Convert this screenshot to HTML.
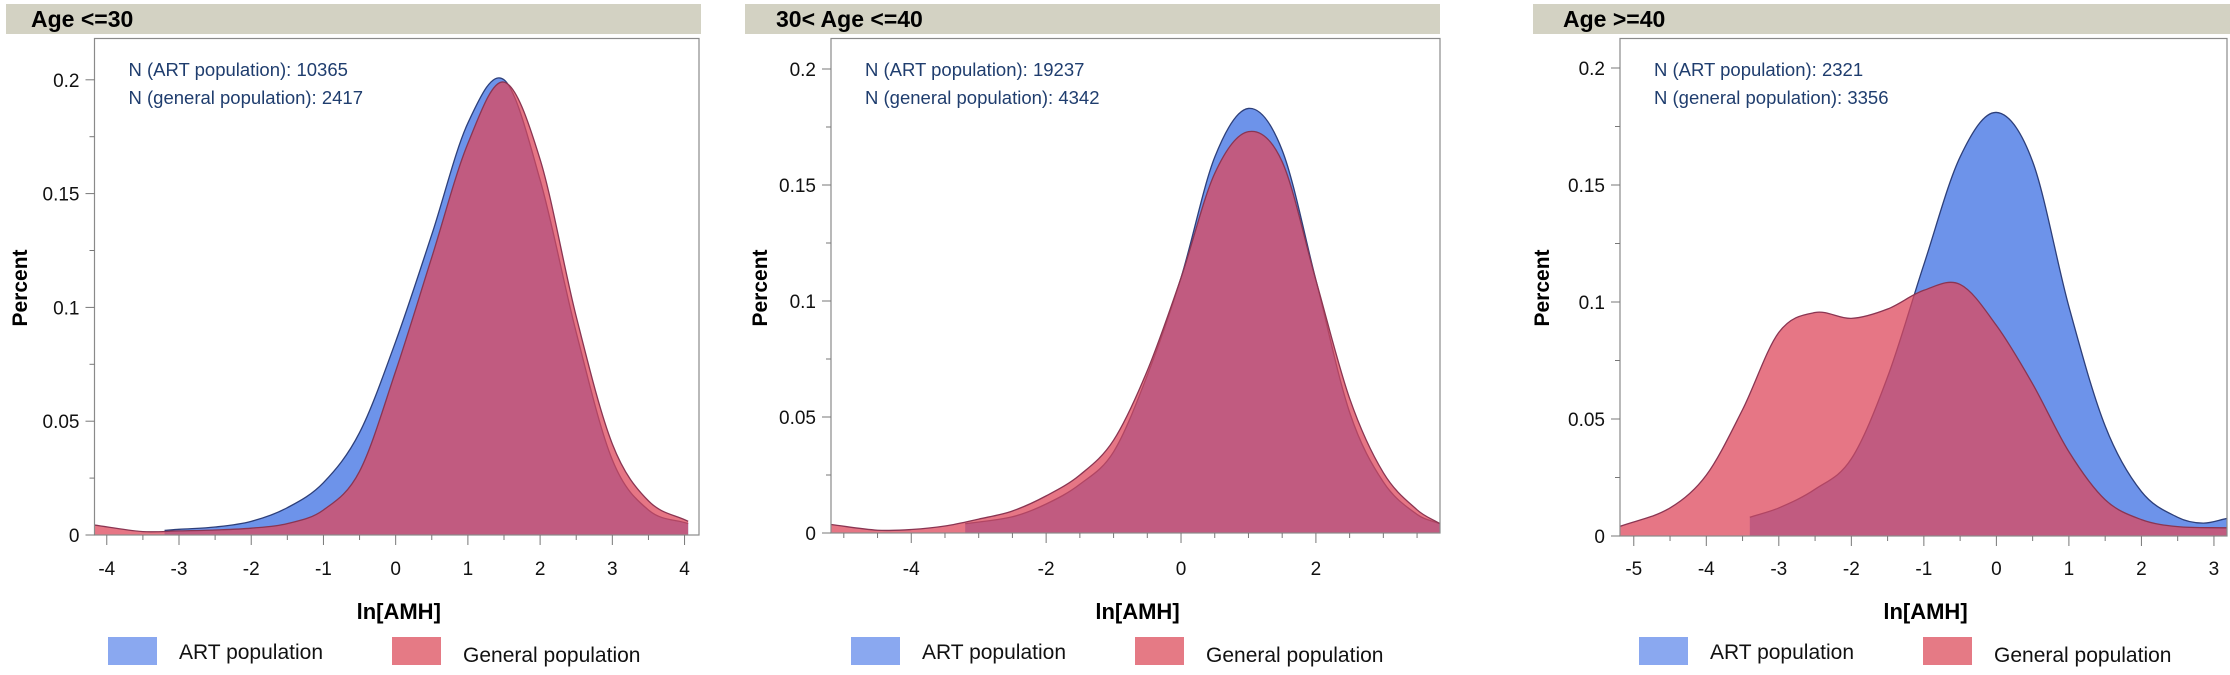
<!DOCTYPE html>
<html><head><meta charset="utf-8">
<style>
html,body{margin:0;padding:0;background:#fff;}
body{width:2230px;height:670px;overflow:hidden;font-family:"Liberation Sans",Arial,sans-serif;}
svg text{font-family:"Liberation Sans",Arial,sans-serif;}
</style></head>
<body>
<svg id="chart" width="2230" height="670" viewBox="0 0 2230 670" xmlns="http://www.w3.org/2000/svg"></svg>
<script>
// ---- data (density of ln[AMH]) ----
const p1ArtX = [-3.2,-3,-2.5,-2,-1.5,-1,-0.5,0,0.5,1,1.5,2,2.5,3,3.5,4.05];
const p1ArtY = [0.002,0.0025,0.0035,0.006,0.012,0.023,0.045,0.085,0.132,0.181,0.2,0.156,0.089,0.033,0.011,0.005];
const p1GenX = [-4.2,-3.5,-3,-2.5,-2,-1.5,-1,-0.5,0,0.5,1,1.5,2,2.5,3,3.5,4.05];
const p1GenY = [0.0045,0.0015,0.0018,0.0022,0.003,0.005,0.011,0.028,0.072,0.122,0.172,0.199,0.165,0.096,0.04,0.015,0.006];

const p2ArtX = [-3.2,-2.5,-2,-1.5,-1,-0.5,0,0.5,1,1.5,2,2.5,3,3.5,3.84];
const p2ArtY = [0.004,0.007,0.0125,0.021,0.035,0.068,0.11,0.162,0.183,0.165,0.109,0.052,0.022,0.008,0.004];
const p2GenX = [-5.2,-4.5,-4,-3.5,-3,-2.5,-2,-1.5,-1,-0.5,0,0.5,1,1.5,2,2.5,3,3.5,3.84];
const p2GenY = [0.0037,0.0012,0.0015,0.003,0.006,0.0095,0.016,0.025,0.04,0.07,0.11,0.155,0.173,0.16,0.109,0.058,0.026,0.01,0.004];

const p3ArtX = [-3.4,-3,-2.5,-2,-1.5,-1,-0.5,0,0.5,1,1.5,2,2.5,2.85,3.18];
const p3ArtY = [0.008,0.012,0.02,0.033,0.068,0.116,0.162,0.181,0.16,0.098,0.047,0.019,0.008,0.0055,0.0075];
const p3GenX = [-5.2,-4.5,-4,-3.5,-3,-2.5,-2,-1.5,-1,-0.5,0,0.5,1,1.5,2,2.5,3.18];
const p3GenY = [0.004,0.012,0.026,0.054,0.087,0.0955,0.093,0.097,0.105,0.1075,0.09,0.065,0.036,0.0155,0.007,0.004,0.0035];

const panelTitles = ["Age <=30","30< Age <=40","Age >=40"];
const artCounts = [10365,19237,2321];
const genCounts = [2417,4342,3356];
const xTickLabels = [[-4,-3,-2,-1,0,1,2,3,4],[-4,-2,0,2],[-5,-4,-3,-2,-1,0,1,2,3]];
const yTickLabels = [0,0.05,0.1,0.15,0.2];

// ---- layout ----
const layouts = [
  {hx0:6,hx1:701,fx0:94.5,fx1:699,xmin:-4.17,xmax:4.2,y0px:535,ppu:113.8/0.05,xminor:0.5,titleX:31,percentX:20,legendX:108},
  {hx0:745,hx1:1440,fx0:831,fx1:1440,xmin:-5.19,xmax:3.84,y0px:533,ppu:116/0.05,xminor:0.5,titleX:776,percentX:760,legendX:851},
  {hx0:1533,hx1:2230,fx0:1620,fx1:2227,xmin:-5.19,xmax:3.18,y0px:536,ppu:117/0.05,xminor:0.5,titleX:1563,percentX:1542,legendX:1639}
];
const series = [[p1ArtX,p1ArtY,p1GenX,p1GenY],[p2ArtX,p2ArtY,p2GenX,p2GenY],[p3ArtX,p3ArtY,p3GenX,p3GenY]];

const NS="http://www.w3.org/2000/svg";
const svg=document.getElementById('chart');
function mk(tag,attrs,parent){const e=document.createElementNS(NS,tag);for(const k in attrs)e.setAttribute(k,attrs[k]);(parent||svg).appendChild(e);return e;}

function splinePath(pts){
  let d=`M${pts[0][0]},${pts[0][1]}`;
  for(let i=0;i<pts.length-1;i++){
    const p0=pts[Math.max(0,i-1)],p1=pts[i],p2=pts[i+1],p3=pts[Math.min(pts.length-1,i+2)];
    const h=p2[0]-p1[0];
    const m1=(p2[1]-p0[1])/((p2[0]-p0[0])||1), m2=(p3[1]-p1[1])/((p3[0]-p1[0])||1);
    const c1x=p1[0]+h/3,c1y=p1[1]+m1*h/3;
    const c2x=p2[0]-h/3,c2y=p2[1]-m2*h/3;
    d+=` C${c1x},${c1y} ${c2x},${c2y} ${p2[0]},${p2[1]}`;
  }
  return d;
}

layouts.forEach((L,pi)=>{
  const g=mk('g',{});
  
  
  const xs=v=>L.fx0+(v-L.xmin)/(L.xmax-L.xmin)*(L.fx1-L.fx0);
  const ys=v=>L.y0px-v*L.ppu;
  const ftop=38.5, fbot=L.y0px;

  const hb=mk('rect',{x:L.hx0,y:4,width:L.hx1-L.hx0,height:30,fill:'#d3d2c3'},g);
  
  
  const ht=mk('text',{x:L.titleX,y:27,'font-size':23,'font-weight':'bold',fill:'#000'},g);
  ht.textContent=panelTitles[pi];
  
  

  const cp=mk('clipPath',{id:'clip'+pi},g);
  mk('rect',{x:L.fx0,y:ftop,width:L.fx1-L.fx0,height:fbot-ftop},cp);

  const s=series[pi];
  const drawArea=(X,Y,fill,stroke,name)=>{
    const pts=X.map((x,i)=>[xs(x),ys(Y[i])]);
    const line=splinePath(pts);
    const area=line+` L${pts[pts.length-1][0]},${fbot} L${pts[0][0]},${fbot} Z`;
    const a=mk('path',{d:area,fill:fill,'clip-path':`url(#clip${pi})`},g);
    
    
    const l=mk('path',{d:line,fill:'none',stroke:stroke,'stroke-width':1.3,'clip-path':`url(#clip${pi})`},g);
    
    
  };
  drawArea(s[0],s[1],'#6d93ea','#2d3f7a','art-density');
  drawArea(s[2],s[3],'rgba(222,72,92,0.75)','#8a3552','general-density');

  const fr=mk('rect',{x:L.fx0,y:ftop,width:L.fx1-L.fx0,height:fbot-ftop,fill:'none',stroke:'#8a8a8a','stroke-width':1.2},g);
  
  

  for(let v=0;v<=0.2001;v+=0.025){
    const major=Math.abs(v/0.05-Math.round(v/0.05))<1e-6;
    mk('line',{x1:L.fx0-(major?9:5),x2:L.fx0,y1:ys(v),y2:ys(v),stroke:'#777','stroke-width':1},g);
  }
  yTickLabels.forEach(v=>{
    const t=mk('text',{x:L.fx0-15,y:ys(v)+7,'font-size':19,'text-anchor':'end',fill:'#111'},g);
    t.textContent=String(v);
    
    
  });
  const start=Math.ceil(L.xmin/L.xminor)*L.xminor;
  for(let v=start;v<=L.xmax+1e-6;v+=L.xminor){
    const major=xTickLabels[pi].some(m=>Math.abs(m-v)<1e-6);
    mk('line',{x1:xs(v),x2:xs(v),y1:fbot,y2:fbot+(major?10:5),stroke:'#777','stroke-width':1},g);
  }
  xTickLabels[pi].forEach(v=>{
    const t=mk('text',{x:xs(v),y:575,'font-size':19,'text-anchor':'middle',fill:'#111'},g);
    t.textContent=String(v);
    
    
  });

  const yt=mk('text',{x:0,y:0,'font-size':21,'font-weight':'bold','text-anchor':'middle',fill:'#000',transform:`translate(${L.percentX+7},288) rotate(-90)`},g);
  yt.textContent='Percent';
  
  
  const xt=mk('text',{x:(L.fx0+L.fx1)/2+2,y:619,'font-size':22,'font-weight':'bold','text-anchor':'middle',fill:'#000'},g);
  xt.textContent='ln[AMH]';
  
  

  const a1=mk('text',{x:L.fx0+34,y:76,'font-size':18.5,fill:'#1f3d6e'},g);
  a1.textContent='N (ART population): '+artCounts[pi];
  
  
  const a2=mk('text',{x:L.fx0+34,y:104,'font-size':18.5,fill:'#1f3d6e'},g);
  a2.textContent='N (general population): '+genCounts[pi];
  
  

  const lx=L.legendX;
  const s1=mk('rect',{x:lx,y:637,width:49,height:28,fill:'#8aa8f0'},g);
  
  
  const t1=mk('text',{x:lx+71,y:659,'font-size':21,fill:'#111'},g);
  t1.textContent='ART population';
  
  
  const s2=mk('rect',{x:lx+284,y:637,width:49,height:28,fill:'#e57a85'},g);
  
  
  const t2=mk('text',{x:lx+355,y:662,'font-size':21,fill:'#111'},g);
  t2.textContent='General population';
  
  
});
</script>
</body></html>
